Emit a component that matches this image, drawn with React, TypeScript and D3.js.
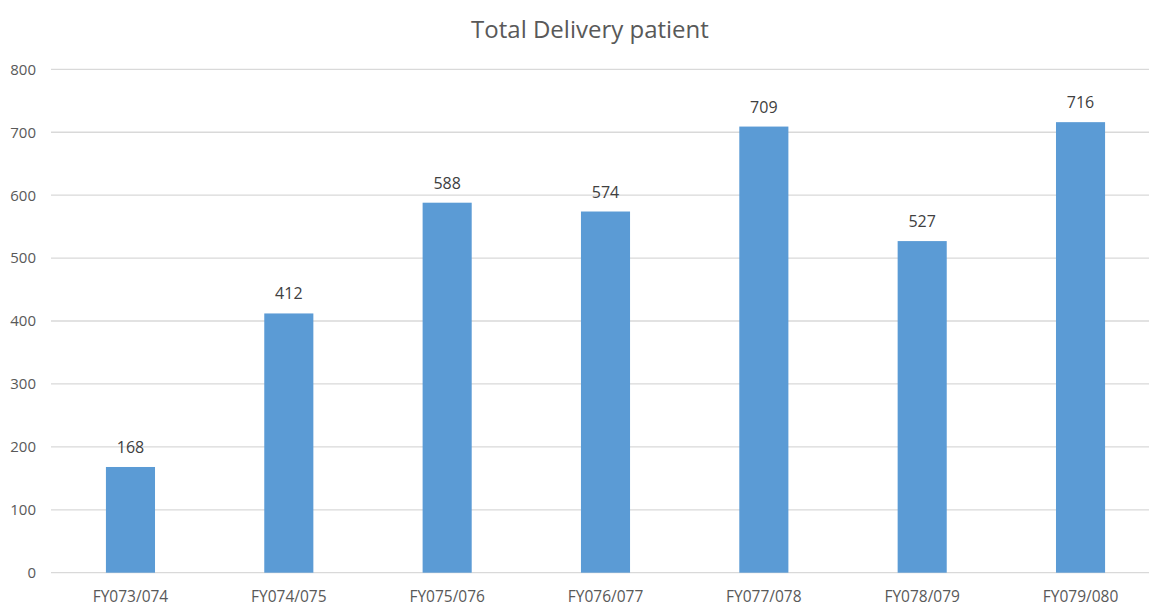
import React from "react";
import * as d3 from "d3";

const categories = ["FY073/074", "FY074/075", "FY075/076", "FY076/077", "FY077/078", "FY078/079", "FY079/080"];
const values = [168, 412, 588, 574, 709, 527, 716];
const yTicks = [0, 100, 200, 300, 400, 500, 600, 700, 800];
const title = "Total Delivery patient";

const W = 1149;
const H = 608;
const FONT = "'Open Sans', 'Noto Sans', sans-serif";

export default function App() {
  const x = d3.scaleBand<string>().domain(categories).range([51.3, 1159.7]).paddingInner(0.69).paddingOuter(0.345);
  const y = d3.scaleLinear().domain([0, 800]).range([572.7, 69.3]);
  return (
    <svg width={W} height={H} style={{ position: "fixed", left: 0, top: 0, background: "#fff" }} fontFamily={FONT}>
      <rect x={0} y={0} width={W} height={H} fill="#fff" />
      <text x={590} y={38} textAnchor="middle" fontSize={24} fill="#595959">{title}</text>
      {yTicks.map((t) => (
        <g key={t}>
          <line x1={51} x2={W} y1={y(t)} y2={y(t)} stroke="#d9d9d9" strokeWidth={1.3} />
          <text x={36} y={y(t)} dy="0.36em" textAnchor="end" fontSize={15} fill="#595959">{t}</text>
        </g>
      ))}
      {categories.map((c, i) => (
        <g key={c}>
          <rect x={x(c)!} y={y(values[i])} width={x.bandwidth()} height={y(0) - y(values[i])} fill="#5b9bd5" />
          <text x={x(c)! + x.bandwidth() / 2} y={y(values[i]) - 14} textAnchor="middle" fontSize={16} fill="#404040">{values[i]}</text>
          <text x={x(c)! + x.bandwidth() / 2} y={602} textAnchor="middle" fontSize={15.5} fill="#595959">{c}</text>
        </g>
      ))}
    </svg>
  );
}
